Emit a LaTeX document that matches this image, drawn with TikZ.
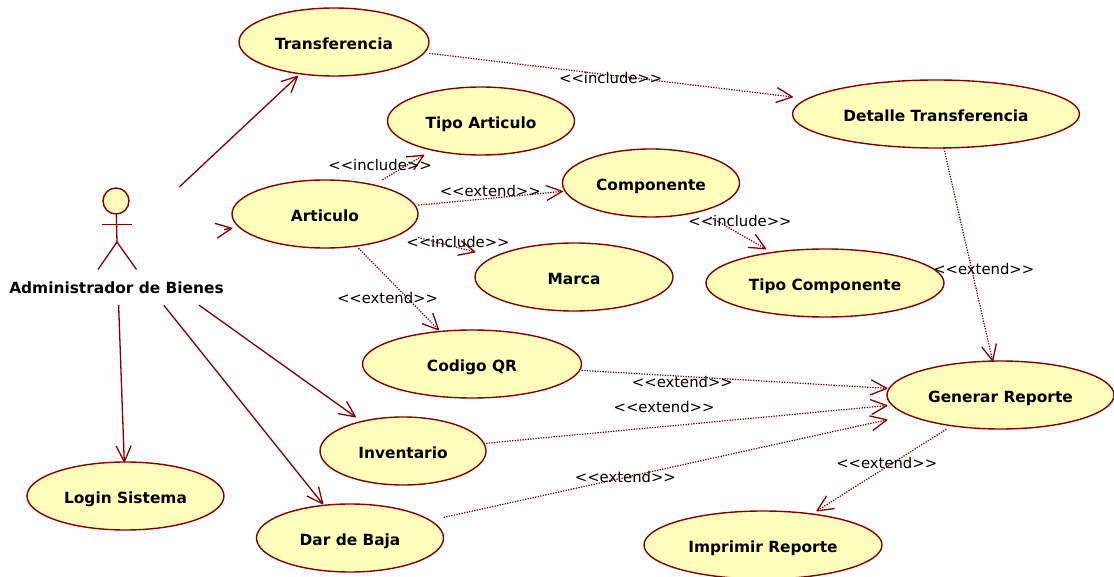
\documentclass[tikz,border=0pt]{standalone}
\usepackage{fontspec}
\newfontfamily\umlfont{DejaVu Sans}
\usetikzlibrary{arrows.meta, shapes.geometric}
\definecolor{umlline}{RGB}{128,0,0}
\definecolor{umlfill}{RGB}{255,255,187}

\pgfdeclarearrow{
    name = umlvee,
    setup code = {
        \pgfarrowssettipend{0pt}
        \pgfarrowssetlineend{-1pt}
    },
    drawing code = {
        \pgfsetdash{}{0pt}
        \pgfsetlinewidth{1.3pt}
        \pgfsetroundjoin
        \pgfpathmoveto{\pgfpoint{-16pt}{7.5pt}}
        \pgfpathlineto{\pgfpointorigin}
        \pgfpathlineto{\pgfpoint{-16pt}{-7.5pt}}
        \pgfusepathqstroke
    }
}

\newcommand{\usecase}[4]{%
    \node[ucellipse, minimum width=#3] (#1shape) at (#2) {};
    \node[ucbox, minimum width=#3] (#1) at (#2) {#4};
}

\begin{document}
\begin{tikzpicture}[
    x=1pt, y=-1pt,
    every node/.style = {text=black, font=\umlfont\fontsize{14.8}{17}\selectfont},
    ucellipse/.style = {ellipse, draw=umlline, fill=umlfill, line width=1.4pt, inner sep=0pt, minimum height=68pt},
    ucbox/.style = {rectangle, inner sep=0pt, minimum height=68pt, text height=15pt, text depth=0pt, font=\umlfont\bfseries\fontsize{15.4}{18}\selectfont},
    actorbox/.style = {rectangle, minimum width=215pt, minimum height=118pt, inner sep=0pt},
    stereo/.style = {inner sep=0pt},
    assoc/.style = {umlline, line width=1.3pt, -umlvee},
    dep/.style = {umlline, line width=1.2pt, dash pattern=on 1.3pt off 1.3pt, -umlvee}
]
    \useasboundingbox (0,0) rectangle (1114,577);

    \usecase{transferencia}{334,42}{190pt}{Transferencia}
    \usecase{tipoarticulo}{481,121}{187pt}{Tipo Articulo}
    \usecase{detalle}{936,114}{287pt}{Detalle Transferencia}
    \usecase{articulo}{325,214}{186pt}{Articulo}
    \usecase{componente}{651,183}{177pt}{Componente}
    \usecase{marca}{574,277}{198pt}{Marca}
    \usecase{tipocomponente}{825,283}{238pt}{Tipo Componente}
    \usecase{codigoqr}{472,364}{219pt}{Codigo QR}
    \usecase{reporte}{1000.5,395}{227pt}{Generar Reporte}
    \usecase{inventario}{403,451}{166pt}{Inventario}
    \usecase{login}{125.5,496}{197pt}{Login Sistema}
    \usecase{baja}{350,538}{187pt}{Dar de Baja}
    \usecase{imprimir}{763,545}{238pt}{Imprimir Reporte}

    \node[actorbox] (admin) at (116.5,246) {};
    \node[font=\umlfont\bfseries\fontsize{15.4}{18}\selectfont] (adminname) at (116.5,288) {Administrador de Bienes};
    \node[circle, draw=umlline, fill=umlfill, line width=1.4pt, minimum size=26pt, inner sep=0pt] (head) at (116,201) {};
    \coordinate (hip) at (117,242);
    \coordinate (lefthand) at (102,224.5);
    \coordinate (righthand) at (132,224.5);
    \coordinate (leftfoot) at (98,269.5);
    \coordinate (rightfoot) at (136.5,269.5);
    \draw[umlline, line width=1.3pt] (head) -- (hip);
    \draw[umlline, line width=1.3pt] (lefthand) -- (righthand);
    \draw[umlline, line width=1.3pt] (leftfoot) -- (hip) -- (rightfoot);

    \draw[assoc] (admin) -- (transferencia);
    \draw[assoc] (admin) -- (articulo);
    \draw[assoc] (admin) -- (login);
    \draw[assoc] (admin) -- (inventario);
    \draw[assoc] (admin) -- (baja);

    \draw[dep] (transferencia) -- node[stereo, yshift=-3pt] {<<include>>} (detalle);
    \draw[dep] (articulo) -- node[stereo, xshift=-23pt, yshift=2.5pt] {<<include>>} (tipoarticulo);
    \draw[dep] (articulo) -- node[stereo, yshift=7pt] {<<extend>>} (componente);
    \draw[dep] (articulo) -- node[stereo, xshift=11.5pt, yshift=3pt] {<<include>>} (marca);
    \draw[dep] (articulo) -- node[stereo, xshift=-11pt, yshift=-9pt] {<<extend>>} (codigoqr);
    \draw[dep] (componente) -- node[stereo, xshift=2pt, yshift=12pt] {<<include>>} (tipocomponente);
    \draw[dep] (detalle) -- node[stereo, xshift=15.5pt, yshift=-14.5pt] {<<extend>>} (reporte);
    \draw[dep] (codigoqr) -- node[stereo, pos=.33, yshift=-5.5pt] {<<extend>>} (reporte);
    \draw[dep] (inventario) -- node[stereo, pos=.444, yshift=20pt] {<<extend>>} (reporte);
    \draw[dep] (baja) -- node[stereo, pos=.41] {<<extend>>} (reporte);
    \draw[dep] (reporte) -- node[stereo, xshift=5pt, yshift=7pt] {<<extend>>} (imprimir);
\end{tikzpicture}
\end{document}
